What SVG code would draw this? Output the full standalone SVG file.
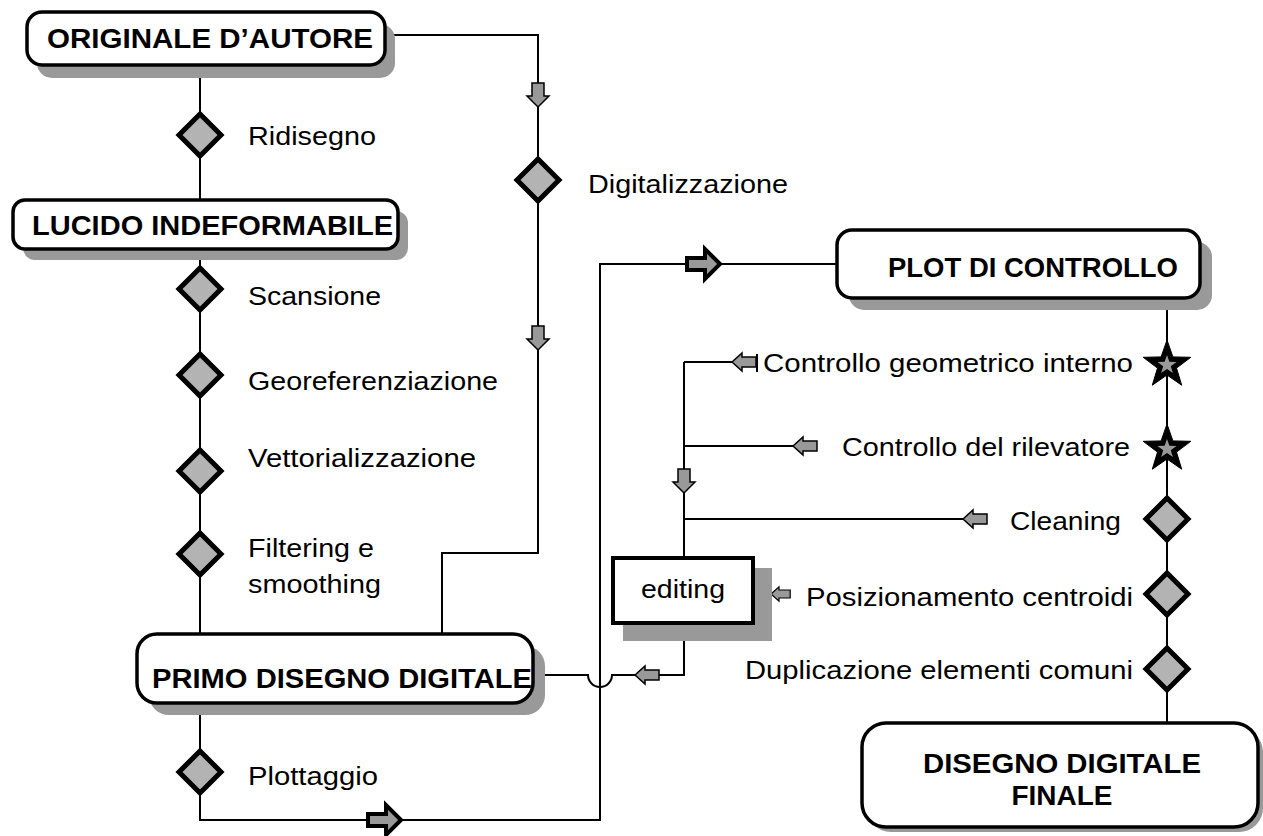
<svg xmlns="http://www.w3.org/2000/svg" width="1263" height="836" viewBox="0 0 1263 836">
<defs>
<style>
.ln{fill:none;stroke:#000;stroke-width:2}
.box{fill:#fff;stroke:#000;stroke-width:3.5}
.sh{fill:#999;stroke:none}
.dia{fill:#b3b3b3;stroke:#000;stroke-width:5;stroke-linejoin:miter}
.sa{fill:#999;stroke:#000;stroke-width:1.5;stroke-linejoin:miter}
.ba{fill:#999;stroke:#000;stroke-width:4;stroke-linejoin:miter}
.t{font-family:"Liberation Sans",Arial,sans-serif;font-weight:bold;font-size:27.5px;fill:#000}
.l{font-family:"Liberation Sans",Arial,sans-serif;font-size:26px;fill:#000}
</style>
<path id="dia" d="M0,-21 L21,0 L0,21 L-21,0 Z"/>
<path id="la" d="M0,0 L10,-9 L10,-5 L24,-5 L24,5 L10,5 L10,9 Z"/>
<path id="da" d="M0,0 L-11,-11 L-6,-11 L-6,-24 L6,-24 L6,-11 L11,-11 Z"/>
<path id="ra" d="M0,0 L-15,-15 L-15,-6 L-33,-6 L-33,6 L-15,6 L-15,15 Z"/>
<g id="star">
<polygon points="0,-25 5.9,-8.1 23.8,-7.7 9.5,3.1 14.7,20.2 0,10 -14.7,20.2 -9.5,3.1 -23.8,-7.7 -5.9,-8.1" fill="#000" stroke="#000" stroke-width="1"/>
<polygon points="0,-10 2.4,-3.2 9.5,-3.1 3.8,1.2 5.9,8.1 0,4 -5.9,8.1 -3.8,1.2 -9.5,-3.1 -2.4,-3.2" fill="#999"/>
</g>
</defs>

<g id="connectors">
<path class="ln" d="M385,35 H538 V553 H442 V634"/>
<path class="ln" d="M200,65 V200"/>
<path class="ln" d="M200,249 V634"/>
<path class="ln" d="M200,703 V820 H600 V264 H837"/>
<path class="ln" d="M533,675 H588 A12,12 0 0 0 612,675 H684 V623"/>
<path class="ln" d="M684,362 V558"/>
<path class="ln" d="M684,362 H732"/>
<path class="ln" d="M684,446 H793"/>
<path class="ln" d="M684,519 H963"/>
<path class="ln" d="M1167,298 V723"/>
<use href="#da" class="sa" x="538" y="107"/>
<use href="#da" class="sa" x="538" y="350"/>
<use href="#da" class="sa" x="684" y="493"/>
<use href="#la" class="sa" x="732" y="362"/>
<line x1="757" y1="354" x2="757" y2="372" stroke="#000" stroke-width="2"/>
<use href="#la" class="sa" x="793" y="446"/>
<use href="#la" class="sa" x="963" y="519"/>
<use href="#la" class="sa" transform="translate(771,594) scale(0.8)"/>
<use href="#la" class="sa" x="635" y="675"/>
<use href="#ra" class="ba" x="720" y="264"/>
<use href="#ra" class="ba" x="401" y="820"/>
</g>

<g id="n-originale">
<rect class="sh" x="37" y="24" width="358" height="54" rx="15"/>
<rect class="box" x="27" y="12" width="358" height="53" rx="15"/>
<text class="t" x="47" y="48" textLength="326" lengthAdjust="spacingAndGlyphs">ORIGINALE D’AUTORE</text>
</g>

<g id="n-ridisegno">
<use href="#dia" class="dia" x="200" y="135"/>
<text class="l" x="248" y="145" textLength="128" lengthAdjust="spacingAndGlyphs">Ridisegno</text>
</g>

<g id="n-digitalizzazione">
<use href="#dia" class="dia" x="538" y="180"/>
<text class="l" x="588" y="193" textLength="200" lengthAdjust="spacingAndGlyphs">Digitalizzazione</text>
</g>

<g id="n-lucido">
<rect class="sh" x="23" y="211" width="385" height="49" rx="12"/>
<rect class="box" x="13" y="200" width="385" height="49" rx="12"/>
<text class="t" x="32" y="235" textLength="361" lengthAdjust="spacingAndGlyphs">LUCIDO INDEFORMABILE</text>
</g>

<g id="n-scansione">
<use href="#dia" class="dia" x="200" y="289"/>
<text class="l" x="248" y="305" textLength="133" lengthAdjust="spacingAndGlyphs">Scansione</text>
</g>
<g id="n-georef">
<use href="#dia" class="dia" x="200" y="375"/>
<text class="l" x="248" y="390" textLength="250" lengthAdjust="spacingAndGlyphs">Georeferenziazione</text>
</g>
<g id="n-vett">
<use href="#dia" class="dia" x="200" y="471"/>
<text class="l" x="248" y="467" textLength="228" lengthAdjust="spacingAndGlyphs">Vettorializzazione</text>
</g>
<g id="n-filtering">
<use href="#dia" class="dia" x="200" y="554"/>
<text class="l" x="248" y="557" textLength="126" lengthAdjust="spacingAndGlyphs">Filtering e</text>
<text class="l" x="248" y="593" textLength="133" lengthAdjust="spacingAndGlyphs">smoothing</text>
</g>

<g id="n-primo">
<rect class="sh" x="149" y="646" width="396" height="69" rx="20"/>
<rect class="box" x="137" y="634" width="396" height="69" rx="20"/>
<text class="t" x="152" y="688" textLength="380" lengthAdjust="spacingAndGlyphs">PRIMO DISEGNO DIGITALE</text>
</g>

<g id="n-plottaggio">
<use href="#dia" class="dia" x="200" y="772"/>
<text class="l" x="248" y="785" textLength="130" lengthAdjust="spacingAndGlyphs">Plottaggio</text>
</g>

<g id="n-plot">
<rect class="sh" x="849" y="242" width="363" height="68" rx="15"/>
<rect class="box" x="837" y="230" width="363" height="68" rx="15"/>
<text class="t" x="888" y="277" textLength="290" lengthAdjust="spacingAndGlyphs">PLOT DI CONTROLLO</text>
</g>

<g id="n-geom">
<use href="#star" x="1167" y="365"/>
<text class="l" x="1133" y="372" text-anchor="end" textLength="370" lengthAdjust="spacingAndGlyphs">Controllo geometrico interno</text>
</g>
<g id="n-rilev">
<use href="#star" x="1167" y="449"/>
<text class="l" x="1130" y="456" text-anchor="end" textLength="288" lengthAdjust="spacingAndGlyphs">Controllo del rilevatore</text>
</g>
<g id="n-cleaning">
<use href="#dia" class="dia" x="1167" y="519"/>
<text class="l" x="1121" y="530" text-anchor="end" textLength="111" lengthAdjust="spacingAndGlyphs">Cleaning</text>
</g>
<g id="n-posiz">
<use href="#dia" class="dia" x="1167" y="594"/>
<text class="l" x="1133" y="606" text-anchor="end" textLength="327" lengthAdjust="spacingAndGlyphs">Posizionamento centroidi</text>
</g>
<g id="n-dupl">
<use href="#dia" class="dia" x="1167" y="669"/>
<text class="l" x="1133" y="679" text-anchor="end" textLength="388" lengthAdjust="spacingAndGlyphs">Duplicazione elementi comuni</text>
</g>

<g id="n-editing">
<rect class="sh" x="623" y="568" width="149" height="73"/>
<rect x="613" y="558" width="140" height="65" fill="#fff" stroke="#000" stroke-width="4"/>
<text class="l" x="683" y="598" text-anchor="middle" textLength="84" lengthAdjust="spacingAndGlyphs">editing</text>
</g>

<g id="n-finale">
<rect class="sh" x="867" y="728" width="396" height="104" rx="24"/>
<rect class="box" x="862" y="723" width="396" height="104" rx="24"/>
<text class="t" x="1062" y="773" text-anchor="middle" textLength="278" lengthAdjust="spacingAndGlyphs">DISEGNO DIGITALE</text>
<text class="t" x="1062" y="805" text-anchor="middle" textLength="101" lengthAdjust="spacingAndGlyphs">FINALE</text>
</g>
</svg>
